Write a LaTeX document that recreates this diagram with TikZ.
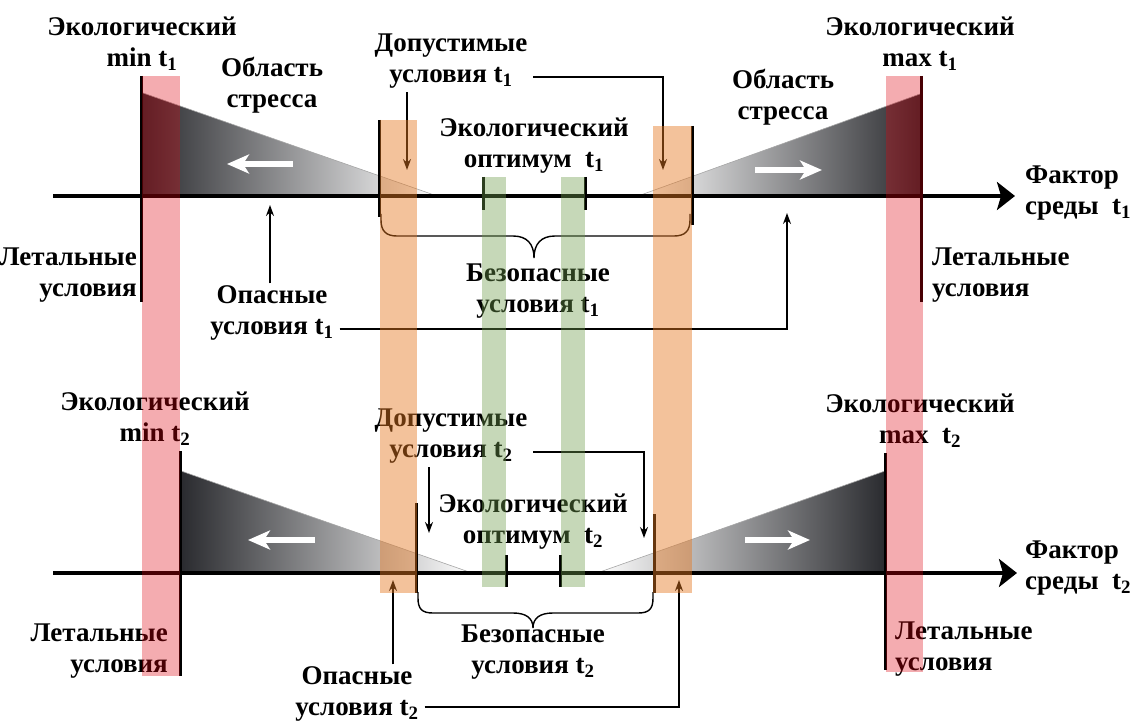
\documentclass[tikz,border=0pt]{standalone}
\usepackage{fontspec}
\setmainfont{Liberation Serif}
\usetikzlibrary{arrows.meta}

\definecolor{bandred}{RGB}{221,3,15}
\definecolor{bandorange}{RGB}{229,120,33}
\definecolor{bandgreen}{RGB}{112,157,78}
\definecolor{tridark}{RGB}{42,43,47}

\tikzset{
  lbl/.style={font=\bfseries\fontsize{27}{31}\selectfont, align=center, inner sep=0pt},
  ticks/.style={line width=3pt},
  axisline/.style={line width=4.5pt, -{Stealth[length=18pt,width=28pt,inset=4pt]}},
  conn/.style={line width=1.4pt, -{Stealth[length=11pt,width=8pt]}},
  whitearr/.style={white, line width=6pt, -{Stealth[length=22pt,width=19pt,inset=6pt]}},
  stressL/.style={shading=axis, left color=tridark, middle color=tridark!65!white, right color=white},
  stressR/.style={shading=axis, right color=tridark, middle color=tridark!65!white, left color=white},
  edge/.style={draw=gray!70, line width=0.6pt},
  brace/.style={line width=1.4pt},
  redband/.style={fill=bandred, fill opacity=0.33},
  orangeband/.style={fill=bandorange, fill opacity=0.45},
  greenband/.style={fill=bandgreen, fill opacity=0.4},
}

\begin{document}
\begin{tikzpicture}[x=1pt,y=-1pt]
\useasboundingbox (0,0) rectangle (1132,722);

% ---------- factor t1 ----------
\shade[stressL] (143,93) -- (143,196) -- (437,196) -- cycle;
\shade[stressR] (638,196) -- (920,94) -- (920,196) -- cycle;
\draw[edge] (143,93) -- (437,196);
\draw[edge] (638,196) -- (920,94);

\coordinate (ax1s) at (53,196);
\coordinate (ax1e) at (1015,196);
\draw[axisline] (ax1s) -- (ax1e);

\draw[whitearr] (293,164) -- (227,164);
\draw[whitearr] (755,170) -- (822,170);

\draw[ticks] (141,76) -- (141,302);
\draw[ticks] (921,76) -- (921,302);
\draw[ticks] (379,120) -- (379,217);
\draw[ticks] (692,126) -- (692,225);
\draw[ticks] (483,177) -- (483,210);
\draw[ticks] (585,177) -- (585,210);

\draw[brace] (381,214) -- (381,220) .. controls (381,231) and (386,236) .. (397,236)
  -- (513,236) .. controls (527,236) and (534,244) .. (534,258)
  .. controls (534,244) and (541,236) .. (555,236)
  -- (674,236) .. controls (685,236) and (690,231) .. (690,220) -- (690,214);

\node[lbl] (emin1) at (142,44) {Экологический\\min t\textsubscript{1}};
\node[lbl] (stress1l) at (272,85) {Область\\стресса};
\node[lbl, align=right, anchor=east] (leth1l) at (137,275) {Летальные\\условия};
\node[lbl] (dang1) at (272,313) {Опасные\\условия t\textsubscript{1}};
\node[lbl] (dop1) at (451,61) {Допустимые\\условия t\textsubscript{1}};
\node[lbl] (opt1) at (534,146) {Экологический\\оптимум\enspace t\textsubscript{1}};
\node[lbl] (safe1) at (538,291) {Безопасные\\условия t\textsubscript{1}};
\node[lbl] (emax1) at (920,44) {Экологический\\max t\textsubscript{1}};
\node[lbl] (stress1r) at (783,97) {Область\\стресса};
\node[lbl, align=left, anchor=west] (fact1) at (1025,193) {Фактор\\среды\enspace t\textsubscript{1}};
\node[lbl, align=left, anchor=west] (leth1r) at (932,275) {Летальные\\условия};

\coordinate (dang1up) at (270,205);
\coordinate (dang1rt) at (787,213);
\coordinate (dop1dn) at (407,170);
\coordinate (dop1rt) at (663,170);
\draw[conn] ([yshift=2pt]dang1.north -| dang1up) -- (dang1up);
\draw[conn] ([xshift=6pt,yshift=-16pt]dang1.east) -| (dang1rt);
\draw[conn] ([yshift=-4pt]dop1.south -| dop1dn) -- (dop1dn);
\draw[conn] ([xshift=6pt,yshift=-16pt]dop1.east) -| (dop1rt);

% ---------- factor t2 ----------
\shade[stressL] (181,471) -- (181,573) -- (472,573) -- cycle;
\shade[stressR] (597,573) -- (885,471) -- (885,573) -- cycle;
\draw[edge] (181,471) -- (472,573);
\draw[edge] (597,573) -- (885,471);

\coordinate (ax2s) at (53,573);
\coordinate (ax2e) at (1017,573);
\draw[axisline] (ax2s) -- (ax2e);

\draw[whitearr] (315,540) -- (248,540);
\draw[whitearr] (745,540) -- (810,540);

\draw[ticks] (180,451) -- (180,676);
\draw[ticks] (885,453) -- (885,670);
\draw[ticks] (416,503) -- (416,593);
\draw[ticks] (654,514) -- (654,593);
\draw[ticks] (506,555) -- (506,587);
\draw[ticks] (560,555) -- (560,587);

\draw[brace] (418,592) -- (418,598) .. controls (418,609) and (422,613) .. (433,613)
  -- (513,613) .. controls (526,613) and (533,618) .. (533,628)
  .. controls (533,618) and (540,613) .. (553,613)
  -- (638,613) .. controls (649,613) and (653,609) .. (653,598) -- (653,592);

\node[lbl] (emin2) at (155,419) {Экологический\\min t\textsubscript{2}};
\node[lbl, align=right, anchor=east] (leth2l) at (168,651) {Летальные\\условия};
\node[lbl] (dang2) at (357,694) {Опасные\\условия t\textsubscript{2}};
\node[lbl] (dop2) at (451,436) {Допустимые\\условия t\textsubscript{2}};
\node[lbl] (opt2) at (533,522) {Экологический\\оптимум\enspace t\textsubscript{2}};
\node[lbl] (safe2) at (533,652) {Безопасные\\условия t\textsubscript{2}};
\node[lbl] (emax2) at (920,421) {Экологический\\max\enspace t\textsubscript{2}};
\node[lbl, align=left, anchor=west] (fact2) at (1025,568) {Фактор\\среды\enspace t\textsubscript{2}};
\node[lbl, align=left, anchor=west] (leth2r) at (895,649) {Летальные\\условия};

\coordinate (dang2up) at (393,580);
\coordinate (dang2rt) at (679,580);
\coordinate (dop2dn) at (429,533);
\coordinate (dop2rt) at (644,538);
\draw[conn] ([yshift=2pt]dang2.north -| dang2up) -- (dang2up);
\draw[conn] ([xshift=6pt,yshift=-13pt]dang2.east) -| (dang2rt);
\draw[conn] ([yshift=-4pt]dop2.south -| dop2dn) -- (dop2dn);
\draw[conn] ([xshift=6pt,yshift=-16pt]dop2.east) -| (dop2rt);

% ---------- tolerance bands ----------
\fill[redband] (142,76) rectangle (180,676);
\fill[redband] (886,76) rectangle (923,672);
\fill[orangeband] (380,120) rectangle (417,593);
\fill[orangeband] (653,126) rectangle (692,593);
\fill[greenband] (482,177) rectangle (506,587);
\fill[greenband] (561,177) rectangle (585,587);
\end{tikzpicture}
\end{document}
